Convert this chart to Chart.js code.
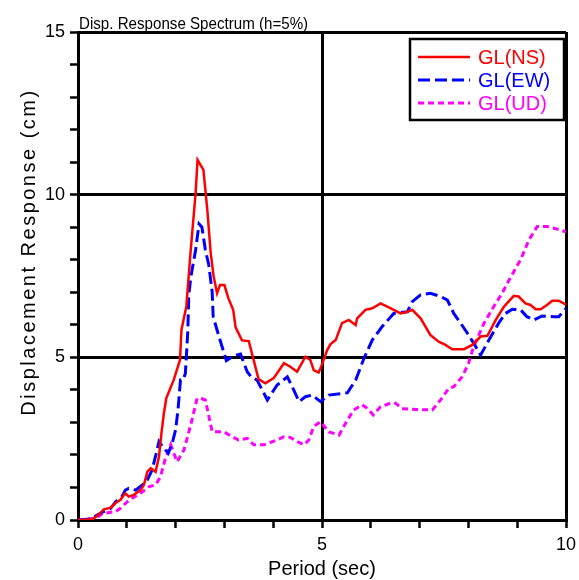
<!DOCTYPE html>
<html>
<head>
<meta charset="utf-8">
<script src="https://cdn.jsdelivr.net/npm/chart.js@4.4.1/dist/chart.umd.min.js"></script>
<style>
  html, body { margin: 0; padding: 0; background: #fff; }
  #wrap { width: 579px; height: 580px; }
</style>
</head>
<body>
<div id="wrap"><canvas id="SpecChart" width="579" height="580"></canvas></div>
<script>
// displacement response spectrum, h=5%, ground level records
const nsPeriod = [0, 0.3, 0.45, 0.53, 0.67, 0.77, 0.87, 0.97, 1.04, 1.14, 1.28, 1.35, 1.42, 1.49, 1.59, 1.66, 1.71, 1.76, 1.81, 1.96,
  2.09, 2.12, 2.22, 2.31, 2.41, 2.45, 2.57, 2.65, 2.72, 2.78, 2.85, 2.91, 3.0, 3.08, 3.18, 3.23, 3.36, 3.5, 3.7, 3.84,
  4.01, 4.22, 4.35, 4.49, 4.66, 4.76, 4.83, 4.93, 4.97, 5.1, 5.17, 5.28, 5.41, 5.55, 5.69, 5.72, 5.89, 6.03, 6.2, 6.4,
  6.61, 6.75, 6.85, 7.02, 7.22, 7.39, 7.53, 7.67, 7.91, 8.08, 8.25, 8.39, 8.56, 8.73, 8.93, 9.03, 9.17, 9.27, 9.38, 9.48,
  9.61, 9.72, 9.85, 10.0];
const nsDisp = [0, 0.02, 0.2, 0.33, 0.38, 0.52, 0.62, 0.82, 0.72, 0.77, 0.92, 1.08, 1.48, 1.59, 1.48, 1.95, 2.66, 3.28, 3.75, 4.3,
  4.92, 5.84, 6.56, 8.3, 10.04, 11.07, 10.76, 9.53, 8.2, 7.48, 6.97, 7.22, 7.22, 6.82, 6.46, 5.92, 5.52, 5.5, 4.33, 4.2,
  4.36, 4.82, 4.71, 4.56, 5.02, 4.92, 4.61, 4.53, 4.66, 5.2, 5.4, 5.53, 6.05, 6.15, 5.99, 6.2, 6.46, 6.51, 6.66, 6.51,
  6.35, 6.4, 6.46, 6.2, 5.69, 5.48, 5.38, 5.25, 5.25, 5.38, 5.64, 5.66, 6.15, 6.56, 6.89, 6.87, 6.66, 6.61, 6.48, 6.48,
  6.61, 6.74, 6.74, 6.62];

const ewPeriod = [0, 0.26, 0.39, 0.53, 0.67, 0.77, 0.9, 0.97, 1.04, 1.18, 1.32, 1.42, 1.52, 1.62, 1.66, 1.76, 1.85, 1.93, 2.0, 2.05,
  2.1, 2.15, 2.2, 2.25, 2.27, 2.31, 2.41, 2.48, 2.54, 2.61, 2.68, 2.75, 2.77, 2.89, 3.04, 3.19, 3.33, 3.47, 3.55, 3.67,
  3.88, 4.08, 4.29, 4.42, 4.53, 4.66, 4.8, 4.97, 5.14, 5.52, 5.69, 5.86, 6.03, 6.23, 6.47, 6.75, 6.85, 7.02, 7.22, 7.43,
  7.57, 7.7, 7.84, 7.98, 8.11, 8.25, 8.42, 8.62, 8.76, 8.9, 9.07, 9.2, 9.34, 9.51, 9.75, 9.85, 10.0];
const ewDisp = [0, 0.03, 0.15, 0.26, 0.36, 0.56, 0.72, 0.92, 0.97, 0.92, 1.08, 1.23, 1.54, 2.15, 2.41, 2.2, 2.05, 2.36, 2.77, 3.4,
  4.3, 4.3, 4.5, 5.8, 6.9, 7.45, 8.3, 9.1, 9.0, 8.3, 7.84, 7.0, 6.25, 5.63, 4.9, 5.05, 5.1, 4.55, 4.4, 4.3,
  3.69, 4.15, 4.4, 4.0, 3.64, 3.79, 3.84, 3.64, 3.84, 3.91, 4.3, 4.97, 5.53, 5.94, 6.35, 6.4, 6.71, 6.92, 6.97, 6.87,
  6.76, 6.35, 6.05, 5.74, 5.43, 5.07, 5.53, 6.05, 6.35, 6.48, 6.46, 6.25, 6.15, 6.27, 6.25, 6.25, 6.5];

const udPeriod = [0, 0.36, 0.5, 0.77, 0.87, 1.01, 1.11, 1.28, 1.45, 1.59, 1.69, 1.78, 1.9, 2.03, 2.17, 2.31, 2.44, 2.51, 2.61, 2.75,
  2.99, 3.16, 3.29, 3.47, 3.6, 3.81, 4.08, 4.22, 4.35, 4.49, 4.63, 4.73, 4.83, 4.97, 5.14, 5.35, 5.52, 5.65, 5.82, 5.93,
  6.05, 6.2, 6.4, 6.51, 6.64, 6.92, 7.26, 7.43, 7.6, 7.7, 7.87, 8.0, 8.1, 8.32, 8.52, 8.69, 8.86, 9.07, 9.24, 9.41,
  9.61, 9.82, 10.0];
const udDisp = [0, 0.05, 0.2, 0.26, 0.36, 0.56, 0.67, 0.82, 1.02, 1.08, 1.33, 1.84, 2.31, 1.79, 2.15, 2.92, 3.74, 3.74, 3.69, 2.71,
  2.71, 2.56, 2.46, 2.51, 2.31, 2.31, 2.46, 2.56, 2.54, 2.41, 2.31, 2.46, 2.87, 3.02, 2.71, 2.61, 3.07, 3.38, 3.54, 3.43,
  3.23, 3.48, 3.59, 3.59, 3.42, 3.4, 3.38, 3.69, 4.05, 4.1, 4.4, 4.8, 5.3, 6.05, 6.56, 6.97, 7.45, 8.0, 8.61, 9.02,
  9.02, 8.94, 8.86];

const seriesNames = ["GL(NS)", "GL(EW)", "GL(UD)"];
const xTickLabels = [0, 5, 10];
const yTickLabels = [0, 5, 10, 15];

const FONT = '"Liberation Sans", Arial, sans-serif';

function toPoints(xs, ys) {
  return xs.map((x, i) => ({ x: x, y: ys[i] }));
}

// frame lines at 5, 10 (and the far edges) are drawn as heavy grid lines
function gridColor(c) {
  const v = c.tick ? c.tick.value : 0;
  return (v % 5 === 0 && v > 0) ? "#000" : "rgba(0,0,0,0)";
}

const titlesPlugin = {
  id: "specTitles",
  afterDraw(chart) {
    const c = chart.ctx;
    c.save();
    c.fillStyle = "#000";
    c.textBaseline = "alphabetic";
    c.textAlign = "left";
    // narrow, tall heading text
    c.save();
    c.translate(79, 29);
    c.scale(0.89, 1);
    c.font = "17px " + FONT;
    c.fillText("Disp. Response Spectrum (h=5%)", 0, 0);
    c.restore();

    c.textAlign = "center";
    c.font = "20px " + FONT;
    c.fillText("Period (sec)", 322, 575);

    c.translate(35, 252);
    c.rotate(-Math.PI / 2);
    c.letterSpacing = "2.5px";
    c.fillText("Displacement Response (cm)", 0, 0);
    c.restore();
  },
};

const legendPlugin = {
  id: "boxLegend",
  afterDraw(chart) {
    const c = chart.ctx;
    const bx = 410, by = 39, bw = 154, bh = 81;
    c.save();
    c.fillStyle = "#fff";
    c.fillRect(bx, by, bw, bh);
    c.strokeStyle = "#000";
    c.lineWidth = 2.5;
    c.strokeRect(bx, by, bw, bh);
    c.font = "20px " + FONT;
    c.textBaseline = "middle";
    c.textAlign = "left";
    chart.data.datasets.forEach((ds, i) => {
      const y = 57 + i * 23;
      c.strokeStyle = ds.borderColor;
      c.lineWidth = ds.borderWidth;
      c.setLineDash(ds.borderDash || []);
      c.beginPath();
      c.moveTo(418, y);
      c.lineTo(470, y);
      c.stroke();
      c.fillStyle = ds.borderColor;
      c.fillText(ds.label, 478, y + 1);
    });
    c.restore();
  },
};

const ctx = document.getElementById("SpecChart").getContext("2d");
new Chart(ctx, {
  type: "line",
  data: {
    datasets: [
      {
        label: seriesNames[0],
        data: toPoints(nsPeriod, nsDisp),
        borderColor: "#ff0000",
        borderWidth: 2.5,
        borderDash: [],
      },
      {
        label: seriesNames[1],
        data: toPoints(ewPeriod, ewDisp),
        borderColor: "#0000ff",
        borderWidth: 3,
        borderDash: [12, 5],
      },
      {
        label: seriesNames[2],
        data: toPoints(udPeriod, udDisp),
        borderColor: "#ff00ff",
        borderWidth: 3,
        borderDash: [6, 4],
      },
    ],
  },
  options: {
    responsive: false,
    animation: false,
    layout: { padding: { top: 32, right: 13, left: 0, bottom: 0 } },
    elements: {
      point: { radius: 0 },
      line: { tension: 0, fill: false, borderCapStyle: "butt" },
    },
    plugins: {
      legend: { display: false },
      tooltip: { enabled: false },
      title: { display: false },
    },
    scales: {
      x: {
        type: "linear",
        min: 0,
        max: 10,
        afterFit: (s) => { s.height = 60; s.paddingLeft = 0; s.paddingRight = 0; },
        border: { color: "#000", width: 3 },
        grid: { color: gridColor, lineWidth: 3, tickColor: "#000", tickWidth: 2.5, tickLength: 8 },
        ticks: {
          stepSize: 1,
          autoSkip: false,
          maxRotation: 0,
          padding: 6,
          color: "#000",
          font: { family: FONT, size: 18 },
          callback: (v) => (xTickLabels.includes(v) ? String(v) : ""),
        },
      },
      y: {
        type: "linear",
        min: 0,
        max: 15,
        afterFit: (s) => { s.width = 78; s.paddingTop = 0; s.paddingBottom = 0; },
        border: { color: "#000", width: 3 },
        grid: { color: gridColor, lineWidth: 3, tickColor: "#000", tickWidth: 2.5, tickLength: 8 },
        ticks: {
          stepSize: 1,
          autoSkip: false,
          padding: 5,
          color: "#000",
          font: { family: FONT, size: 18 },
          callback: (v) => (yTickLabels.includes(v) ? String(v) : ""),
        },
      },
    },
  },
  plugins: [titlesPlugin, legendPlugin],
});
</script>
</body>
</html>
